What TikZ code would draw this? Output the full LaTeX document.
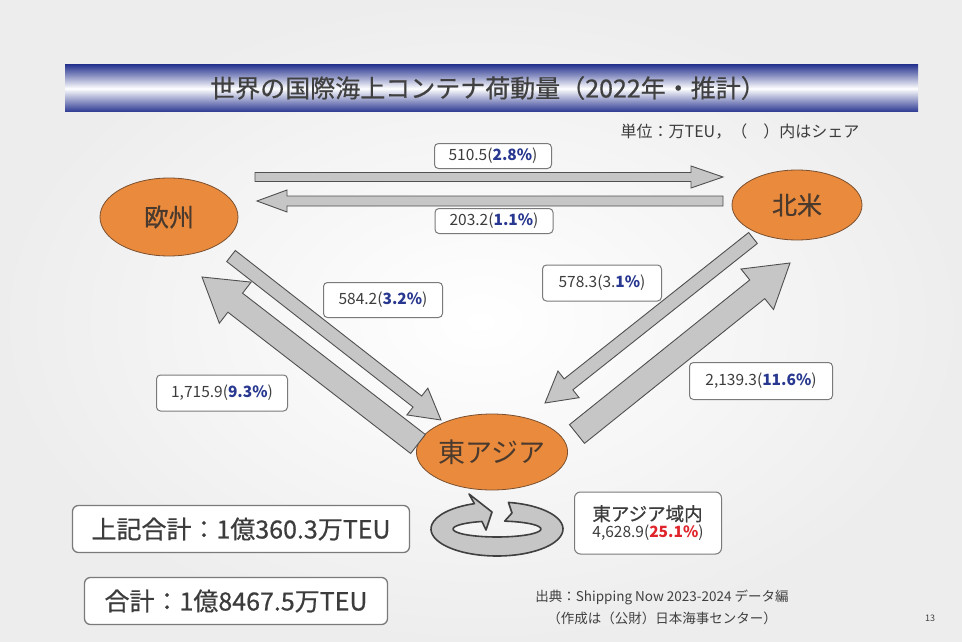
\documentclass[tikz,border=0pt]{standalone}
\usepackage{fontspec}
\setmainfont{Noto Sans CJK JP}
\newfontfamily\heavyfont[FakeBold=0.6]{Noto Sans CJK JP}
\usetikzlibrary{calc,shapes.geometric}
\definecolor{titleblue}{HTML}{2B3891}
\definecolor{pctblue}{HTML}{28378F}
\definecolor{pctred}{HTML}{E0242B}
\definecolor{orangefill}{HTML}{EA8A3C}
\definecolor{orangeline}{HTML}{7A5030}
\definecolor{orangetext}{HTML}{4A3A2E}
\definecolor{arrowfill}{HTML}{C6C6C6}
\definecolor{arrowline}{HTML}{505050}
\definecolor{boxline}{HTML}{7A7A7A}
\definecolor{txt}{HTML}{3C3C3C}
\newcommand{\fatarrow}[5]{%
  \coordinate (fa-h) at ($(#2)!#5!(#1)$);
  \draw[flowarrow] ($(#1)!#3!90:(#2)$) -- ($(fa-h)!#3!90:(#2)$) -- ($(fa-h)!#4!90:(#2)$) -- (#2) -- ($(fa-h)!#4!-90:(#2)$) -- ($(fa-h)!#3!-90:(#2)$) -- ($(#1)!#3!-90:(#2)$) -- cycle;}
\newcommand{\pb}[1]{\textcolor{pctblue}{\textbf{#1}}}
\newcommand{\pr}[1]{\textcolor{pctred}{\textbf{#1}}}
\tikzset{
  flowarrow/.style={fill=arrowfill, draw=arrowline, line width=0.9pt, line join=miter},
  region/.style={ellipse, fill=orangefill, draw=orangeline, line width=0.8pt, text=orangetext, inner sep=0pt},
  lbl/.style={draw=boxline, fill=white, rounded corners=4pt, line width=1pt, inner sep=0pt, minimum height=25pt, text=txt, font=\fontsize{15.5}{17}\selectfont},
  totalbox/.style={draw=boxline, fill=white, rounded corners=6pt, line width=1.3pt, inner sep=0pt, minimum height=47pt, text=txt, font=\heavyfont\fontsize{25}{28}\selectfont},
}
\begin{document}
\begin{tikzpicture}[x=1pt, y=-1pt]
\useasboundingbox (0,0) rectangle (962,642);
\shade[inner color=white, outer color=black!7] (0,0) rectangle (962,642);
% title bar
\shade[top color=titleblue, bottom color=titleblue, middle color=white] (65,65) rectangle (918,112);
\node[text=black!75, font=\heavyfont\fontsize{25}{28}\selectfont] (title) at (488,88) {世界の国際海上コンテナ荷動量（2022年・推計）};
\node[text=txt, font=\fontsize{16}{18}\selectfont] (unit) at (740,132) {単位：万TEU，（　）内はシェア};
% regions
\node[region, minimum width=138pt, minimum height=78pt, font=\heavyfont\fontsize{25}{28}\selectfont] (eu) at (169,217) {欧州};
\node[region, minimum width=130pt, minimum height=70pt, font=\heavyfont\fontsize{25}{28}\selectfont] (na) at (797,205) {北米};
\node[region, minimum width=122pt, minimum height=76pt, font=\fontsize{27}{30}\selectfont] (ea) at (492,452) {東アジア};
% arrow end points
\coordinate (a1s) at (255,177);
\coordinate (a1t) at (723,177);
\coordinate (a2s) at (723,201);
\coordinate (a2t) at (257,201);
\coordinate (a3s) at (231,256);
\coordinate (a3t) at (441,420);
\coordinate (a4s) at (418,444);
\coordinate (a4t) at (202,277);
\coordinate (a5s) at (753,238);
\coordinate (a5t) at (545,403);
\coordinate (a6s) at (577,434);
\coordinate (a6t) at (790,263);
\fatarrow{a1s}{a1t}{4.5pt}{11pt}{32pt}
\fatarrow{a2s}{a2t}{5pt}{11pt}{30pt}
\fatarrow{a3s}{a3t}{7pt}{17pt}{30pt}
\fatarrow{a4s}{a4t}{12pt}{26pt}{42pt}
\fatarrow{a5s}{a5t}{7pt}{17pt}{30pt}
\fatarrow{a6s}{a6t}{12pt}{26pt}{42pt}
% labels
\node[lbl, minimum width=117pt] (l1) at (493,156) {510.5(\pb{2.8\%})};
\node[lbl, minimum width=118pt] (l2) at (494,221) {203.2(\pb{1.1\%})};
\node[lbl, minimum width=119pt, minimum height=35pt] (l3) at (383,300) {584.2(\pb{3.2\%})};
\node[lbl, minimum width=131pt, minimum height=36pt] (l4) at (222,393) {1,715.9(\pb{9.3\%})};
\node[lbl, minimum width=119pt, minimum height=36pt] (l5) at (602,283) {578.3(3.\pb{1\%})};
\node[lbl, minimum width=143pt, minimum height=37pt] (l6) at (761,381) {2,139.3(\pb{11.6\%})};
\node[lbl, minimum width=147pt, minimum height=62pt, rounded corners=6pt, align=left] (l7) at (648,523) {{\heavyfont\fontsize{18.5}{22}\selectfont 東アジア域内}\\4,628.9(\pr{25.1\%})};
% intra-regional ring arrow
\begin{scope}[shift={(497,529)}, yscale=-1]
\draw[fill=arrowfill, draw=black!75, line width=1.6pt, line join=round]
  (80:66 and 27) arc[start angle=80, end angle=-250, x radius=66, y radius=27]
  -- (-28,35) -- (-5,17) -- (-11,-1) -- (110:44 and 8)
  arc[start angle=110, end angle=440, x radius=44, y radius=8]
  -- (15,16) -- cycle;
\end{scope}
\coordinate (ring) at (497,529);
% totals
\node[totalbox, minimum width=337pt] (t1) at (241,529) {上記合計：1億360.3万TEU};
\node[totalbox, minimum width=303pt] (t2) at (236,601) {合計：1億8467.5万TEU};
% source
\node[text=black!75, font=\fontsize{13.5}{15}\selectfont] (src1) at (662,597) {出典：Shipping Now 2023-2024 データ編};
\node[text=black!75, font=\fontsize{13.5}{15}\selectfont] (src2) at (662,618) {（作成は（公財）日本海事センター）};
\node[text=black!75, font=\fontsize{9}{11}\selectfont] (pg) at (930,618) {13};
\end{tikzpicture}
\end{document}
